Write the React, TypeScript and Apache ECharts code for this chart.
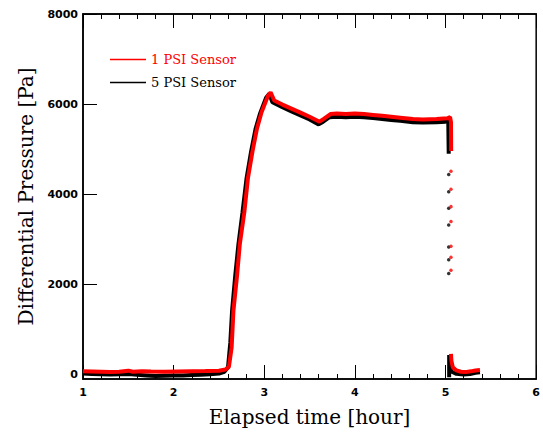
import React, { useEffect, useRef } from "react";
import * as echarts from "echarts";

// Elapsed time [hour], differential pressure [Pa]
const sensor1Psi: (number[] | null)[] = [
  [1.0, 70], [1.1, 65], [1.2, 60], [1.3, 55], [1.4, 60], [1.5, 85], [1.55, 60],
  [1.65, 70], [1.75, 65], [1.9, 60], [2.05, 65], [2.2, 70], [2.35, 75], [2.5, 85],
  [2.57, 110], [2.61, 170], [2.64, 600], [2.66, 1420], [2.7, 2200], [2.73, 2890],
  [2.78, 3600], [2.82, 4360], [2.87, 4950], [2.92, 5460], [2.97, 5820], [3.04, 6180],
  [3.07, 6260], [3.11, 6080], [3.2, 5990], [3.3, 5900], [3.4, 5810], [3.5, 5720],
  [3.61, 5610], [3.66, 5680], [3.73, 5780], [3.8, 5790], [3.9, 5780], [4.0, 5790],
  [4.1, 5780], [4.2, 5760], [4.3, 5740], [4.4, 5720], [4.5, 5700], [4.64, 5670],
  [4.75, 5660], [4.9, 5670], [5.02, 5685], [5.05, 5710], [5.06, 5600], [5.062, 4960],
  null,
  [5.06, 460], [5.065, 300], [5.08, 163], [5.12, 90], [5.17, 60], [5.22, 53],
  [5.28, 70], [5.33, 90], [5.38, 100],
];

const sensor5Psi: (number[] | null)[] = [
  [1.0, 20], [1.1, 10], [1.2, 5], [1.3, 0], [1.4, 5], [1.5, 10], [1.6, -5],
  [1.7, -20], [1.8, -35], [1.9, -30], [2.0, -25], [2.1, -20], [2.2, -10], [2.3, -5],
  [2.4, 5], [2.5, 20], [2.56, 60], [2.6, 160], [2.625, 700], [2.645, 1420],
  [2.68, 2200], [2.715, 2890], [2.76, 3600], [2.805, 4360], [2.855, 4950],
  [2.905, 5460], [2.955, 5800], [3.02, 6140], [3.055, 6230], [3.09, 6040],
  [3.2, 5930], [3.3, 5840], [3.4, 5750], [3.5, 5660], [3.6, 5550], [3.65, 5610],
  [3.72, 5710], [3.8, 5720], [3.9, 5710], [4.0, 5720], [4.1, 5710], [4.2, 5690],
  [4.3, 5670], [4.4, 5650], [4.5, 5630], [4.64, 5600], [4.75, 5590], [4.9, 5600],
  [5.0, 5610], [5.03, 5630], [5.035, 4900],
  null,
  [5.04, 430], [5.04, -60], null,
  [5.045, 150], [5.07, 60], [5.12, 15], [5.2, 0], [5.27, 10], [5.33, 40], [5.38, 50],
];

// sparse samples recorded during the fast pressure drop
const drop1Psi: number[][] = [
  [5.06, 4509], [5.06, 4112], [5.06, 3725], [5.06, 3394], [5.06, 2844], [5.06, 2601], [5.06, 2315],
];
const drop5Psi: number[][] = [
  [5.035, 4436], [5.035, 4055], [5.035, 3687], [5.035, 3319], [5.035, 2828], [5.035, 2548], [5.035, 2240],
];

const RED = "#ff0000";
const BLACK = "#000000";

export default function App() {
  const ref = useRef<HTMLDivElement>(null);

  useEffect(() => {
    if (!ref.current) return;
    const chart = echarts.init(ref.current, null, { renderer: "svg" });

    const tickFont = () => ({
      fontFamily: "DejaVu Sans",
      fontWeight: "bold" as const,
      fontSize: 11,
      color: "#000",
      formatter: (v: number) => String(v),
    });
    const axisLine = () => ({ show: true, onZero: false, lineStyle: { color: "#000", width: 1.5 } });
    const majorTick = () => ({ show: true, inside: true, length: 14, lineStyle: { color: "#000", width: 1 } });
    const minorTick = () => ({ show: true, splitNumber: 5, length: 5, lineStyle: { color: "#000", width: 1 } });

    const xAxisOf = (position: "bottom" | "top", extra: any) => ({
      type: "value" as const,
      position,
      min: 1,
      max: 6,
      interval: 1,
      splitLine: { show: false },
      axisLine: axisLine(),
      axisTick: majorTick(),
      minorTick: minorTick(),
      ...extra,
    });

    chart.setOption({
      animation: false,
      backgroundColor: "#ffffff",
      grid: {
        left: 83,
        right: 2,
        top: 14,
        bottom: 50,
        containLabel: false,
        show: true,
        borderColor: "#000",
        borderWidth: 1.5,
        backgroundColor: "transparent",
      },
      legend: {
        left: 110,
        top: 53,
        orient: "vertical",
        padding: 0,
        icon: "rect",
        itemWidth: 36,
        itemHeight: 1.5,
        itemGap: 10,
        textStyle: { fontFamily: "DejaVu Serif", fontSize: 13 },
        data: [
          { name: "1 PSI Sensor", textStyle: { color: RED } },
          { name: "5 PSI Sensor", textStyle: { color: BLACK } },
        ],
      },
      xAxis: [
        xAxisOf("bottom", {
          name: "Elapsed time [hour]",
          nameLocation: "middle",
          nameGap: 28,
          nameTextStyle: { fontFamily: "DejaVu Serif", fontSize: 20, color: "#000" },
          axisLabel: { ...tickFont(), margin: 8 },
        }),
        xAxisOf("top", { axisLabel: { show: false } }),
      ],
      yAxis: {
        type: "value",
        position: "left",
        min: -100,
        max: 8000,
        splitLine: { show: false },
        axisLine: axisLine(),
        axisTick: majorTick(),
        name: "Differential Pressure [Pa]",
        nameLocation: "middle",
        nameGap: 46,
        nameTextStyle: { fontFamily: "DejaVu Serif", fontSize: 20, color: "#000" },
        axisLabel: { ...tickFont(), margin: 5 },
      },
      series: [
        {
          name: "5 PSI Sensor",
          type: "line",
          data: sensor5Psi,
          showSymbol: false,
          connectNulls: false,
          color: BLACK,
          lineStyle: { color: BLACK, width: 4 },
        },
        {
          name: "5 PSI drop",
          type: "scatter",
          data: drop5Psi,
          symbol: "circle",
          symbolSize: 3.5,
          itemStyle: { color: BLACK },
        },
        {
          name: "1 PSI Sensor",
          type: "line",
          data: sensor1Psi,
          showSymbol: false,
          connectNulls: false,
          color: RED,
          lineStyle: { color: RED, width: 4 },
        },
        {
          name: "1 PSI drop",
          type: "scatter",
          data: drop1Psi,
          symbol: "circle",
          symbolSize: 3.5,
          itemStyle: { color: RED },
        },
      ],
    });

    return () => chart.dispose();
  }, []);

  return (
    <div
      ref={ref}
      style={{ position: "absolute", left: 0, top: 0, width: 543, height: 432 }}
    />
  );
}
